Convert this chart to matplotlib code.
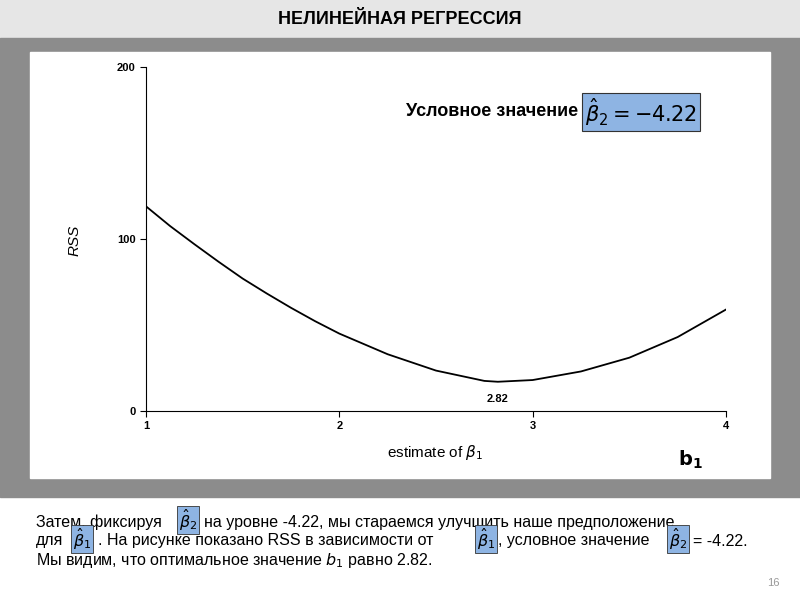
import matplotlib
matplotlib.use("Agg")
import matplotlib.pyplot as plt
from matplotlib.patches import Rectangle

b1 = [1.0, 1.125, 1.25, 1.375, 1.5, 1.625, 1.75, 1.875, 2.0, 2.25, 2.5, 2.75, 2.82, 3.0, 3.25, 3.5, 3.75, 4.0]
rss = [119, 107.5, 97, 86.8, 77, 68.3, 60, 52.2, 45, 33, 23.5, 17.5, 17.0, 18.0, 23, 31, 43, 59]
xticks = [1, 2, 3, 4]
yticks = [0, 100, 200]
b1_opt = 2.82

plt.rcParams["font.family"] = "Liberation Sans"
fig = plt.figure(figsize=(8, 6), dpi=100)
fig.patches.append(Rectangle((0, 1 - 38/600), 1, 38/600, transform=fig.transFigure, color="#e6e6e6", zorder=-5))
fig.patches.append(Rectangle((0, 1 - 497/600), 1, 459/600, transform=fig.transFigure, color="#8c8c8c", zorder=-5))
fig.patches.append(Rectangle((30/800, 1 - 478/600), 740/800, 426/600, transform=fig.transFigure, color="white", zorder=-4))
fig.text(0.5, 1 - 19/600, "НЕЛИНЕЙНАЯ РЕГРЕССИЯ", ha="center", va="center", fontsize=13, fontweight="bold")

ax = fig.add_axes([146/800, 1 - 411/600, 580/800, 344/600])
ax.set_facecolor("none")
ax.plot(b1, rss, color="black", lw=1.3)
ax.set_xlim(1, 4)
ax.set_ylim(0, 200)
ax.set_xticks(xticks)
ax.set_yticks(yticks)
ax.tick_params(labelsize=8, length=4)
for lbl in ax.get_xticklabels() + ax.get_yticklabels():
    lbl.set_fontweight("bold")
ax.spines["top"].set_visible(False)
ax.spines["right"].set_visible(False)
ax.text(b1_opt, 4, f"{b1_opt}", ha="center", va="bottom", fontsize=8, fontweight="bold")

fig.text(75/800, 1 - 240/600, "RSS", rotation=90, ha="center", va="center", fontsize=11, style="italic")
fig.text(435/800, 1 - 452/600, r"estimate of $\beta_1$", ha="center", va="center", fontsize=11)
fig.text(690/800, 1 - 460/600, r"$\mathbf{b}_\mathbf{1}$", ha="center", va="center", fontsize=14)
fig.text(578/800, 1 - 112/600, "Условное значение", ha="right", va="center", fontsize=13, fontweight="bold")
bb = dict(boxstyle="square,pad=0.15", fc="#8eb4e3", ec="#333333", lw=0.8)
fig.text(585/800, 1 - 112/600, r"$\hat{\beta}_2 = -4.22$", ha="left", va="center", fontsize=15, bbox=bb, family="DejaVu Serif")

fs = 11.5
sb = dict(boxstyle="square,pad=0.1", fc="#8eb4e3", ec="#333333", lw=0.6)
def t(x, y, s, box=False):
    fig.text(x/800, 1 - y/600, s, ha="left", va="center", fontsize=fs, bbox=sb if box else None)
t(36, 522, "Затем, фиксируя")
t(179, 520, r"$\hat{\beta}_2$", True)
t(204, 522, "на уровне -4.22, мы стараемся улучшить наше предположение")
t(36, 541, "для")
t(73, 539, r"$\hat{\beta}_1$", True)
t(98, 541, ". На рисунке показано RSS в зависимости от")
t(477, 539, r"$\hat{\beta}_1$", True)
t(498, 541, ", условное значение")
t(669, 539, r"$\hat{\beta}_2$", True)
t(693, 541, "= -4.22.")
t(36, 561, r"Мы видим, что оптимальное значение $b_1$ равно 2.82.")
fig.text(780/800, 1 - 583/600, "16", ha="right", va="center", fontsize=8, color="#999999")

fig.savefig("out.png", dpi=100)
